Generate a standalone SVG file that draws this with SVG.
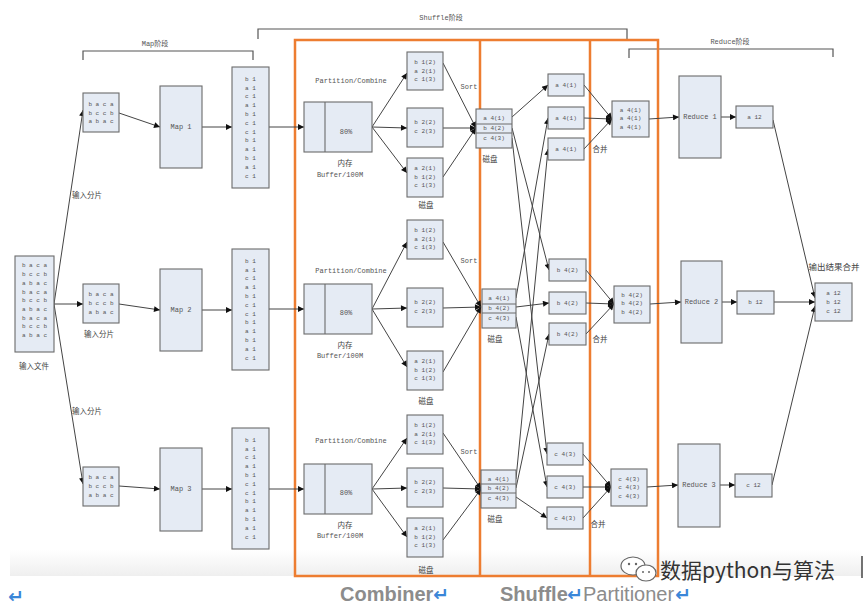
<svg xmlns="http://www.w3.org/2000/svg" width="864" height="610" viewBox="0 0 864 610">
<defs>
<style>
.bx{fill:#E5EBF4;stroke:#6b6b6b;stroke-width:1.1}
.t{font-family:"Liberation Mono","Noto Sans CJK SC",monospace;font-size:6px;fill:#555;text-anchor:middle;dominant-baseline:central}
.t7{font-size:7px}
.cn{font-family:"Noto Sans CJK SC",sans-serif;font-size:7.5px;fill:#444;text-anchor:middle;dominant-baseline:central}
.ln{fill:none;stroke:#444;stroke-width:1}
.br{fill:none;stroke:#555;stroke-width:1.2}
.big{font-family:"Liberation Sans",Arial,sans-serif;font-size:20px;fill:#8c8c8c}
.ret{font-family:"DejaVu Sans",sans-serif;font-size:19px;fill:#3A86D8;font-weight:bold}
</style>
<marker id="ah" viewBox="0 0 10 10" refX="10" refY="5" markerWidth="8" markerHeight="6" orient="auto" markerUnits="userSpaceOnUse"><path d="M0,0 L10,5 L0,10 z" fill="#111"/></marker>
<linearGradient id="band" x1="0" y1="0" x2="0" y2="1"><stop offset="0" stop-color="#ffffff"/><stop offset="1" stop-color="#efefef"/></linearGradient>
</defs>
<rect width="864" height="610" fill="#fff"/>
<rect x="10" y="550" width="852" height="26" fill="url(#band)"/>

<!-- brackets -->
<g id="brackets">
<path class="br" d="M83,60 V51 H253 V60"/>
<text class="t t7" x="155" y="44">Map阶段</text>
<path class="br" d="M258,39 V29 H627 V39"/>
<text class="t t7" x="441" y="18">Shuffle阶段</text>
<path class="br" d="M629,58 V49 H833 V57"/>
<text class="t t7" x="730" y="42">Reduce阶段</text>
</g>

<!-- orange frame -->
<g id="frame" fill="none" stroke="#ED7D31" stroke-width="2.5">
<rect x="295" y="40" width="363" height="536"/>
<line x1="480" y1="40" x2="480" y2="576"/>
<line x1="590" y1="40" x2="590" y2="576"/>
</g>

<!-- connectors -->
<g id="connectors" class="ln" marker-end="url(#ah)">
<path d="M54,304 L83,110"/><path d="M54,304 L83,304"/><path d="M54,304 L83,484"/>
<path d="M119,113 L160,127"/><path d="M119,304 L160,310"/><path d="M119,486 L160,489"/>
<path d="M202,127 L232,127"/><path d="M202,310 L232,310"/><path d="M202,489 L232,489"/>
<path d="M269,127 L304,127"/><path d="M269,309 L304,309"/><path d="M269,489 L304,489"/>
<path d="M372,127 L407,73"/><path d="M372,127 L407,128"/><path d="M372,127 L407,173"/>
<path d="M372,309 L407,242"/><path d="M372,309 L407,308"/><path d="M372,309 L407,367"/>
<path d="M372,489 L407,438"/><path d="M372,489 L407,488"/><path d="M372,489 L407,537"/>
<path d="M443,63 L476,128"/><path d="M443,128 L476,128"/><path d="M443,177 L476,128"/>
<path d="M443,242 L481,307"/><path d="M443,308 L481,307"/><path d="M443,372 L481,307"/>
<path d="M443,433 L481,489"/><path d="M443,488 L481,489"/><path d="M443,540 L481,489"/>
<path d="M512,117 L548,85"/><path d="M512,128 L549,270"/><path d="M512,138 L547,454"/>
<path d="M516,298 L548,118"/><path d="M516,307 L549,303"/><path d="M516,317 L547,487"/>
<path d="M516,479 L548,149"/><path d="M516,488 L549,334"/><path d="M516,497 L547,518"/>
<path d="M584,85 L612,119"/><path d="M584,118 L612,119"/><path d="M584,149 L612,119"/>
<path d="M586,270 L614,304"/><path d="M586,303 L614,304"/><path d="M586,334 L614,304"/>
<path d="M583,454 L611,487"/><path d="M583,487 L611,487"/><path d="M583,518 L611,487"/>
<path d="M649,119 L679,117"/><path d="M650,304 L681,302"/><path d="M647,487 L678,485"/>
<path d="M721,117 L736,117"/><path d="M722,302 L737,302"/><path d="M720,485 L735,485"/>
<path d="M773,120 L815,298"/><path d="M774,302 L815,302"/><path d="M772,485 L815,306"/>
</g>

<!-- input file -->
<g id="input">
<rect class="bx" x="15" y="256" width="39" height="96"/>
<text class="t" x="34.5" y="265">b a c a</text><text class="t" x="34.5" y="274">b c c b</text><text class="t" x="34.5" y="283">a b a c</text>
<text class="t" x="34.5" y="292">b a c a</text><text class="t" x="34.5" y="300">b c c b</text><text class="t" x="34.5" y="309">a b a c</text>
<text class="t" x="34.5" y="318">b a c a</text><text class="t" x="34.5" y="326">b c c b</text><text class="t" x="34.5" y="335">a b a c</text>
<text class="cn" x="34" y="365">输入文件</text>
</g>

<!-- splits -->
<g id="split1">
<rect class="bx" x="83" y="93" width="36" height="39"/>
<text class="t" x="101" y="104">b a c a</text><text class="t" x="101" y="113">b c c b</text><text class="t" x="101" y="121">a b a c</text>
<text class="cn" x="87" y="194">输入分片</text>
</g>
<g id="split2">
<rect class="bx" x="83" y="284" width="36" height="39"/>
<text class="t" x="101" y="294">b a c a</text><text class="t" x="101" y="303">b c c b</text><text class="t" x="101" y="312">a b a c</text>
<text class="cn" x="99" y="333">输入分片</text>
</g>
<g id="split3">
<rect class="bx" x="83" y="467" width="36" height="39"/>
<text class="t" x="101" y="477">b a c a</text><text class="t" x="101" y="486">b c c b</text><text class="t" x="101" y="495">a b a c</text>
<text class="cn" x="87" y="410">输入分片</text>
</g>

<!-- maps -->
<g id="map1"><rect class="bx" x="160" y="86" width="42" height="82"/><text class="t t7" x="181" y="127">Map 1</text></g>
<g id="map2"><rect class="bx" x="160" y="269" width="42" height="82"/><text class="t t7" x="181" y="310">Map 2</text></g>
<g id="map3"><rect class="bx" x="160" y="448" width="42" height="83"/><text class="t t7" x="181" y="489">Map 3</text></g>

<!-- map outputs -->
<g id="mapout1">
<rect class="bx" x="232" y="67" width="37" height="121"/>
<text class="t" x="250.5" y="79">b 1</text><text class="t" x="250.5" y="88">a 1</text><text class="t" x="250.5" y="96">c 1</text><text class="t" x="250.5" y="105">a 1</text><text class="t" x="250.5" y="114">b 1</text><text class="t" x="250.5" y="123">c 1</text><text class="t" x="250.5" y="132">c 1</text><text class="t" x="250.5" y="140">b 1</text><text class="t" x="250.5" y="149">a 1</text><text class="t" x="250.5" y="158">b 1</text><text class="t" x="250.5" y="167">a 1</text><text class="t" x="250.5" y="176">c 1</text>
</g>
<g id="mapout2">
<rect class="bx" x="232" y="249" width="37" height="121"/>
<text class="t" x="250.5" y="261">b 1</text><text class="t" x="250.5" y="270">a 1</text><text class="t" x="250.5" y="278">c 1</text><text class="t" x="250.5" y="287">a 1</text><text class="t" x="250.5" y="296">b 1</text><text class="t" x="250.5" y="305">c 1</text><text class="t" x="250.5" y="314">c 1</text><text class="t" x="250.5" y="322">b 1</text><text class="t" x="250.5" y="331">a 1</text><text class="t" x="250.5" y="340">b 1</text><text class="t" x="250.5" y="349">a 1</text><text class="t" x="250.5" y="358">c 1</text>
</g>
<g id="mapout3">
<rect class="bx" x="232" y="428" width="37" height="121"/>
<text class="t" x="250.5" y="440">b 1</text><text class="t" x="250.5" y="449">a 1</text><text class="t" x="250.5" y="457">c 1</text><text class="t" x="250.5" y="466">a 1</text><text class="t" x="250.5" y="475">b 1</text><text class="t" x="250.5" y="484">c 1</text><text class="t" x="250.5" y="493">c 1</text><text class="t" x="250.5" y="501">b 1</text><text class="t" x="250.5" y="510">a 1</text><text class="t" x="250.5" y="519">b 1</text><text class="t" x="250.5" y="528">a 1</text><text class="t" x="250.5" y="537">c 1</text>
</g>

<!-- buffers -->
<g id="buffer1">
<text class="t t7" x="351" y="81">Partition/Combine</text>
<rect class="bx" x="304" y="102" width="68" height="50"/><line x1="325" y1="102" x2="325" y2="152" stroke="#6b6b6b" stroke-width="1.1"/>
<text class="t t7" x="346" y="132">80%</text>
<text class="cn" x="345" y="162">内存</text><text class="t t7" x="340" y="175">Buffer/100M</text>
</g>
<g id="buffer2">
<text class="t t7" x="351" y="271">Partition/Combine</text>
<rect class="bx" x="304" y="284" width="68" height="50"/><line x1="325" y1="284" x2="325" y2="334" stroke="#6b6b6b" stroke-width="1.1"/>
<text class="t t7" x="346" y="313">80%</text>
<text class="cn" x="345" y="344">内存</text><text class="t t7" x="340" y="356">Buffer/100M</text>
</g>
<g id="buffer3">
<text class="t t7" x="351" y="441">Partition/Combine</text>
<rect class="bx" x="304" y="464" width="68" height="50"/><line x1="325" y1="464" x2="325" y2="514" stroke="#6b6b6b" stroke-width="1.1"/>
<text class="t t7" x="346" y="493">80%</text>
<text class="cn" x="345" y="524">内存</text><text class="t t7" x="340" y="536">Buffer/100M</text>
</g>

<!-- spill disks -->
<g id="spill1">
<rect class="bx" x="407" y="52" width="36" height="38"/>
<text class="t" x="425" y="62">b 1(2)</text><text class="t" x="425" y="71">a 2(1)</text><text class="t" x="425" y="79">c 1(3)</text>
<rect class="bx" x="407" y="108" width="36" height="39"/>
<text class="t" x="425" y="122">b 2(2)</text><text class="t" x="425" y="131">c 2(3)</text>
<rect class="bx" x="407" y="158" width="36" height="39"/>
<text class="t" x="425" y="168">a 2(1)</text><text class="t" x="425" y="177">b 1(2)</text><text class="t" x="425" y="185">c 1(3)</text>
<text class="cn" x="426" y="204">磁盘</text>
<text class="t t7" x="469" y="87">Sort</text>
</g>
<g id="spill2">
<rect class="bx" x="407" y="220" width="36" height="39"/>
<text class="t" x="425" y="230">b 1(2)</text><text class="t" x="425" y="239">a 2(1)</text><text class="t" x="425" y="247">c 1(3)</text>
<rect class="bx" x="407" y="288" width="36" height="39"/>
<text class="t" x="425" y="302">b 2(2)</text><text class="t" x="425" y="311">c 2(3)</text>
<rect class="bx" x="407" y="351" width="36" height="39"/>
<text class="t" x="425" y="361">a 2(1)</text><text class="t" x="425" y="370">b 1(2)</text><text class="t" x="425" y="378">c 1(3)</text>
<text class="cn" x="426" y="400">磁盘</text>
<text class="t t7" x="469" y="261">Sort</text>
</g>
<g id="spill3">
<rect class="bx" x="407" y="415" width="36" height="39"/>
<text class="t" x="425" y="425">b 1(2)</text><text class="t" x="425" y="434">a 2(1)</text><text class="t" x="425" y="442">c 1(3)</text>
<rect class="bx" x="407" y="468" width="36" height="39"/>
<text class="t" x="425" y="482">b 2(2)</text><text class="t" x="425" y="491">c 2(3)</text>
<rect class="bx" x="407" y="518" width="36" height="39"/>
<text class="t" x="425" y="528">a 2(1)</text><text class="t" x="425" y="537">b 1(2)</text><text class="t" x="425" y="545">c 1(3)</text>
<text class="cn" x="426" y="569">磁盘</text>
<text class="t t7" x="469" y="452">Sort</text>
</g>

<!-- merged map-side disks -->
<g id="disk1">
<rect class="bx" x="476" y="109" width="36" height="39"/>
<line x1="476" y1="124" x2="512" y2="124" stroke="#6b6b6b"/><line x1="476" y1="133" x2="512" y2="133" stroke="#6b6b6b"/>
<text class="t" x="494" y="118">a 4(1)</text><text class="t" x="494" y="128.5">b 4(2)</text><text class="t" x="494" y="138">c 4(3)</text>
<text class="cn" x="490" y="158">磁盘</text>
</g>
<g id="disk2">
<rect class="bx" x="482" y="289" width="34" height="39"/>
<line x1="482" y1="304" x2="516" y2="304" stroke="#6b6b6b"/><line x1="482" y1="313" x2="516" y2="313" stroke="#6b6b6b"/>
<text class="t" x="499" y="298">a 4(1)</text><text class="t" x="499" y="308.5">b 4(2)</text><text class="t" x="499" y="318">c 4(3)</text>
<text class="cn" x="495" y="338">磁盘</text>
</g>
<g id="disk3">
<rect class="bx" x="481" y="470" width="35" height="38"/>
<line x1="481" y1="484" x2="516" y2="484" stroke="#6b6b6b"/><line x1="481" y1="493" x2="516" y2="493" stroke="#6b6b6b"/>
<text class="t" x="498.5" y="479">a 4(1)</text><text class="t" x="498.5" y="488.5">b 4(2)</text><text class="t" x="498.5" y="498">c 4(3)</text>
<text class="cn" x="495" y="518">磁盘</text>
</g>

<!-- shuffle boxes -->
<g id="shuf1">
<rect class="bx" x="548" y="74" width="36" height="22"/><text class="t" x="566" y="85">a 4(1)</text>
<rect class="bx" x="548" y="107" width="36" height="22"/><text class="t" x="566" y="118">a 4(1)</text>
<rect class="bx" x="548" y="138" width="36" height="22"/><text class="t" x="566" y="149">a 4(1)</text>
</g>
<g id="shuf2">
<rect class="bx" x="549" y="259" width="37" height="22"/><text class="t" x="567.5" y="270">b 4(2)</text>
<rect class="bx" x="549" y="292" width="37" height="22"/><text class="t" x="567.5" y="303">b 4(2)</text>
<rect class="bx" x="549" y="323" width="37" height="22"/><text class="t" x="567.5" y="334">b 4(2)</text>
</g>
<g id="shuf3">
<rect class="bx" x="547" y="443" width="36" height="22"/><text class="t" x="565" y="454">c 4(3)</text>
<rect class="bx" x="547" y="476" width="36" height="22"/><text class="t" x="565" y="487">c 4(3)</text>
<rect class="bx" x="547" y="507" width="36" height="22"/><text class="t" x="565" y="518">c 4(3)</text>
</g>

<!-- merges -->
<g id="merge1">
<rect class="bx" x="612" y="101" width="37" height="36"/>
<text class="t" x="630.5" y="110">a 4(1)</text><text class="t" x="630.5" y="118.5">a 4(1)</text><text class="t" x="630.5" y="127">a 4(1)</text>
<text class="cn" x="600" y="148">合并</text>
</g>
<g id="merge2">
<rect class="bx" x="614" y="286" width="36" height="37"/>
<text class="t" x="632" y="295">b 4(2)</text><text class="t" x="632" y="303.5">b 4(2)</text><text class="t" x="632" y="312">b 4(2)</text>
<text class="cn" x="600" y="338">合并</text>
</g>
<g id="merge3">
<rect class="bx" x="611" y="469" width="36" height="37"/>
<text class="t" x="629" y="479">c 4(3)</text><text class="t" x="629" y="487.5">c 4(3)</text><text class="t" x="629" y="496">c 4(3)</text>
<text class="cn" x="598" y="523">合并</text>
</g>

<!-- reduces -->
<g id="reduce1"><rect class="bx" x="679" y="76" width="42" height="82"/><text class="t t7" x="700" y="117">Reduce 1</text></g>
<g id="reduce2"><rect class="bx" x="681" y="261" width="41" height="82"/><text class="t t7" x="701.5" y="302">Reduce 2</text></g>
<g id="reduce3"><rect class="bx" x="678" y="444" width="42" height="83"/><text class="t t7" x="699" y="485">Reduce 3</text></g>

<g id="out1"><rect class="bx" x="736" y="106" width="37" height="22"/><text class="t" x="754.5" y="117">a 12</text></g>
<g id="out2"><rect class="bx" x="737" y="291" width="37" height="23"/><text class="t" x="755.5" y="302">b 12</text></g>
<g id="out3"><rect class="bx" x="735" y="474" width="37" height="23"/><text class="t" x="753.5" y="485">c 12</text></g>

<g id="final">
<text class="cn" x="834" y="266" style="font-size:8.5px">输出结果合并</text>
<rect class="bx" x="815" y="283" width="37" height="38"/>
<text class="t" x="833.5" y="293">a 12</text><text class="t" x="833.5" y="302">b 12</text><text class="t" x="833.5" y="311">c 12</text>
</g>

<!-- bottom captions -->
<g id="captions">
<text class="ret" x="8" y="603">↵</text>
<text class="big" x="340" y="601" font-weight="bold">Combiner</text><text class="ret" x="433" y="601">↵</text>
<text class="big" x="500" y="601" font-weight="bold">Shuffle</text><text class="ret" x="567" y="601">↵</text>
<text class="big" x="583" y="601">Partitioner</text><text class="ret" x="675" y="601">↵</text>
</g>

<!-- watermark -->
<g id="watermark">
<ellipse cx="633" cy="566" rx="12" ry="9" fill="#fff" stroke="#666" stroke-width="1.2"/>
<ellipse cx="646" cy="573" rx="10" ry="8" fill="#fff" stroke="#666" stroke-width="1.2"/>
<circle cx="629" cy="564" r="1.2" fill="#666"/><circle cx="636" cy="564" r="1.2" fill="#666"/>
<circle cx="643" cy="572" r="1" fill="#666"/><circle cx="649" cy="572" r="1" fill="#666"/>
<text x="660" y="578" font-family="Noto Sans CJK SC,sans-serif" font-size="21" fill="#333">数据python与算法</text>
<line x1="862" y1="556" x2="862" y2="578" stroke="#444" stroke-width="1.5"/>
</g>
</svg>
